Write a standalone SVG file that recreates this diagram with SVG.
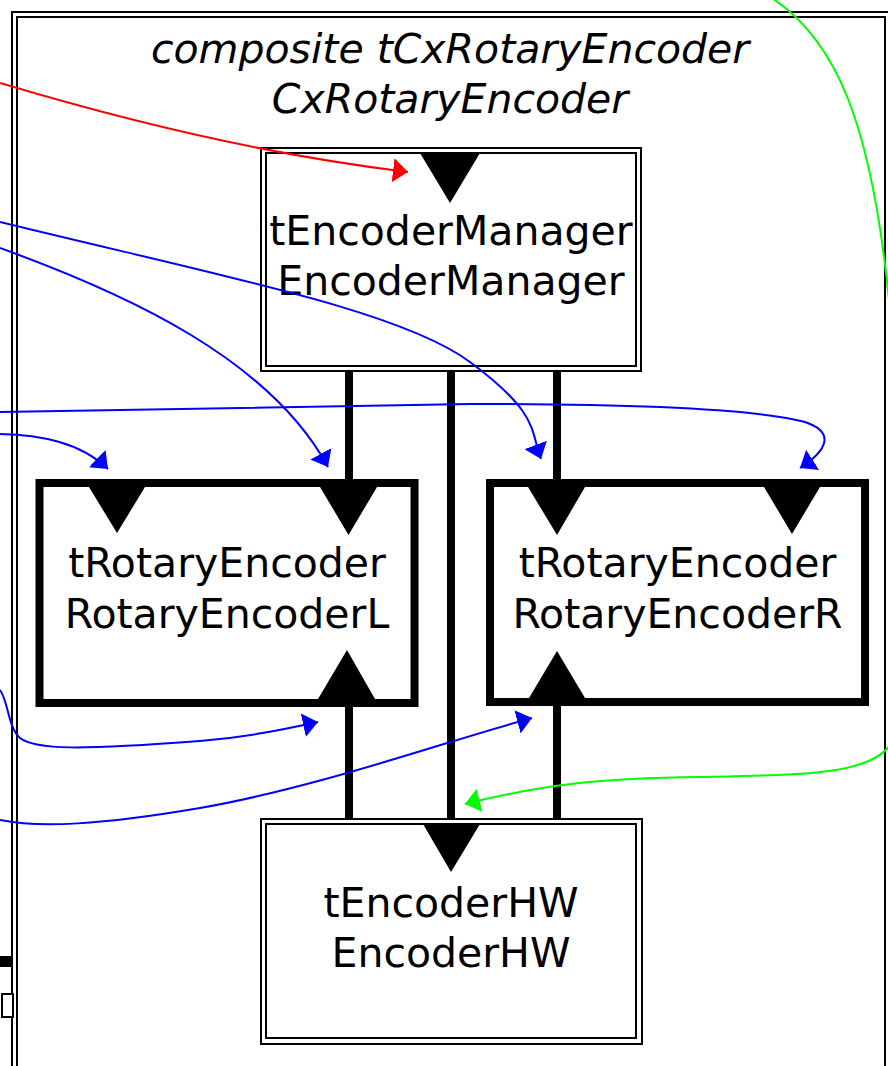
<svg xmlns="http://www.w3.org/2000/svg" width="888" height="1066" viewBox="0 0 888 1066">
<style>
.lbl{font-family:"DejaVu Sans",Verdana,sans-serif;font-size:41px;fill:#000;text-anchor:middle}
.ttl{font-style:italic}
.dbl{fill:none;stroke:#000;stroke-width:2}
.thick{fill:#fff;stroke:#000;stroke-width:8}
.port{fill:#000;stroke:none}
.link{fill:none;stroke:#000;stroke-width:8}
.red{fill:none;stroke:#ff0000;stroke-width:2}
.blue{fill:none;stroke:#0000ff;stroke-width:2}
.green{fill:none;stroke:#00ff00;stroke-width:2}
</style>
<defs>
<marker id="ar" viewBox="0 0 15 24" refX="15" refY="12" markerWidth="15" markerHeight="24" markerUnits="userSpaceOnUse" orient="auto"><path d="M0,0 L15,12 L0,24 z" fill="#ff0000"/></marker>
<marker id="ab" viewBox="0 0 15 24" refX="15" refY="12" markerWidth="15" markerHeight="24" markerUnits="userSpaceOnUse" orient="auto"><path d="M0,0 L15,12 L0,24 z" fill="#0000ff"/></marker>
<marker id="ag" viewBox="0 0 15 24" refX="15" refY="12" markerWidth="15" markerHeight="24" markerUnits="userSpaceOnUse" orient="auto"><path d="M0,0 L15,12 L0,24 z" fill="#00ff00"/></marker>
</defs>
<rect x="0" y="0" width="888" height="1066" fill="#fff"/>
<g id="composite">
<rect class="dbl" x="12" y="12" width="885" height="1070"/>
<rect class="dbl" x="17" y="17" width="868" height="1060"/>
<text class="lbl ttl" x="450" y="63">composite tCxRotaryEncoder</text>
<text class="lbl ttl" x="450" y="113">CxRotaryEncoder</text>
<rect x="0" y="956" width="13" height="11" fill="#000"/>
<rect x="2" y="994" width="11" height="23" fill="#fff" stroke="#000" stroke-width="2"/>
</g>
<g id="EncoderManager">
<rect class="dbl" x="261" y="148" width="380" height="223" fill="#fff"/>
<rect class="dbl" x="266" y="153" width="370" height="213"/>
<polygon class="port" points="420,153 480,153 450,203"/>
<text class="lbl" x="451" y="245">tEncoderManager</text>
<text class="lbl" x="451" y="295">EncoderManager</text>
</g>
<g id="RotaryEncoderL">
<rect class="thick" x="39.5" y="483" width="375" height="220"/>
<polygon class="port" points="89,487 145,487 117,533"/>
<polygon class="port" points="320,487 377,487 348.5,535"/>
<polygon class="port" points="318,699 375,699 347,650"/>
<text class="lbl" x="227" y="577">tRotaryEncoder</text>
<text class="lbl" x="227" y="628">RotaryEncoderL</text>
</g>
<g id="RotaryEncoderR">
<rect class="thick" x="490" y="483" width="375" height="219"/>
<polygon class="port" points="528,487 585,487 557,535"/>
<polygon class="port" points="764,487 820,487 792,534"/>
<polygon class="port" points="529,698 585,698 557,651"/>
<text class="lbl" x="677.5" y="577">tRotaryEncoder</text>
<text class="lbl" x="677.5" y="628">RotaryEncoderR</text>
</g>
<g id="EncoderHW">
<rect class="dbl" x="261" y="819" width="381" height="225" fill="#fff"/>
<rect class="dbl" x="266" y="824" width="370" height="214"/>
<polygon class="port" points="423,824 480,824 451,872"/>
<text class="lbl" x="451" y="917">tEncoderHW</text>
<text class="lbl" x="451" y="967">EncoderHW</text>
</g>
<g id="connectors">
<line class="link" x1="349" y1="372" x2="349" y2="483"/>
<line class="link" x1="557" y1="372" x2="557" y2="483"/>
<line class="link" x1="451" y1="372" x2="451" y2="818"/>
<line class="link" x1="349" y1="703" x2="349" y2="819"/>
<line class="link" x1="557" y1="702" x2="557" y2="819"/>
<path class="red" d="M0,83 C100,113 250,153 408,172" marker-end="url(#ar)"/>
<path class="blue" d="M0,222 C220,276 400,310 470,362 S530,430 541,459" marker-end="url(#ab)"/>
<path class="blue" d="M0,248 C130,295 270,360 328,467" marker-end="url(#ab)"/>
<path class="blue" d="M0,412 L470,404 C650,404 760,410 805,422 C835,432 828,450 800,468" marker-end="url(#ab)"/>
<path class="blue" d="M0,434 C40,435 80,442 108,469" marker-end="url(#ab)"/>
<path class="blue" d="M0,690 C8,700 8,728 20,738 C35,750 80,750 200,741 C250,737 290,728 318,722" marker-end="url(#ab)"/>
<path class="blue" d="M0,820 C40,828 100,825 200,808 C320,787 450,740 532,718" marker-end="url(#ab)"/>
<path class="green" d="M772,-2 C835,40 872,120 890,310"/>
<path class="green" d="M890,745 C870,775 800,775 700,777 C600,778 540,785 465,804" marker-end="url(#ag)"/>
</g>
</svg>
